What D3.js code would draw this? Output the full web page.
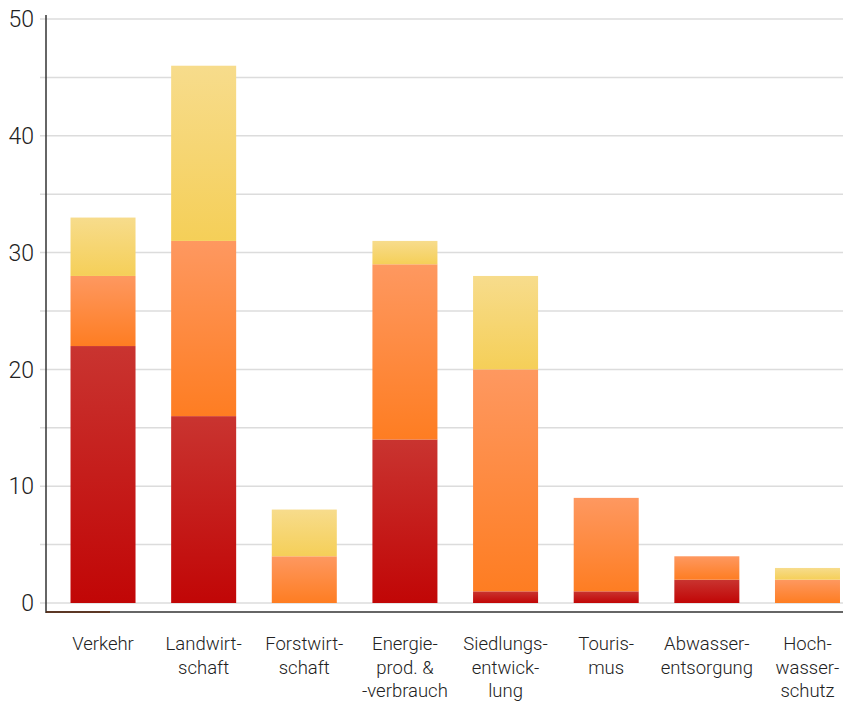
<!DOCTYPE html>
<html><head><meta charset="utf-8">
<script src="https://cdn.jsdelivr.net/npm/d3@7"></script>
<style>body{margin:0;background:#fff}svg{display:block}text{font-family:Roboto,"Liberation Sans",sans-serif;font-weight:300}</style>
</head><body>
<svg id="c" width="843" height="702"></svg>
<script>
const categories = ["Verkehr","Landwirtschaft","Forstwirtschaft","Energie","Siedlungsentwicklung","Tourismus","Abwasserentsorgung","Hochwasserschutz"];
const labelLines = [["Verkehr"],["Landwirt-","schaft"],["Forstwirt-","schaft"],["Energie-","prod. &","-verbrauch"],["Siedlungs-","entwick-","lung"],["Touris-","mus"],["Abwasser-","entsorgung"],["Hoch-","wasser-","schutz"]];
const redValues = [22,16,0,14,1,1,2,0];
const orangeValues = [6,15,4,15,19,8,2,2];
const yellowValues = [5,15,4,2,8,0,0,1];
const seriesKeys = ["red","orange","yellow"];
const yTicks = [0,10,20,30,40,50];
const gridTicks = [0,5,10,15,20,25,30,35,40,45,50];

const rows = categories.map((c,i)=>({cat:c, red:redValues[i], orange:orangeValues[i], yellow:yellowValues[i]}));
const stack = d3.stack().keys(seriesKeys)(rows);

const svg = d3.select("#c");
const y = d3.scaleLinear().domain([0,50]).range([603,19]);
const x = d3.scaleBand().domain(categories).range([52.7,857.8]).paddingInner(0.354).paddingOuter(0.177);

const defs = svg.append("defs");
const grads = {
  red:["#c93430","#c10606"],
  orange:["#fe9860","#fe7d22"],
  yellow:["#f7dc8c","#f5cf58"]
};
Object.entries(grads).forEach(([k,[a,b]])=>{
  const g = defs.append("linearGradient").attr("id","g-"+k).attr("x1",0).attr("y1",0).attr("x2",0).attr("y2",1);
  g.append("stop").attr("offset","0%").attr("stop-color",a);
  g.append("stop").attr("offset","100%").attr("stop-color",b);
});

// grid
svg.append("g").selectAll("line").data(gridTicks).join("line")
  .attr("x1",40).attr("x2",843).attr("y1",d=>y(d)).attr("y2",d=>y(d))
  .attr("stroke","#dcdcdc").attr("stroke-width",1.5);

// bars
svg.append("g").selectAll("g").data(stack).join("g")
  .attr("fill",d=>`url(#g-${d.key})`)
  .selectAll("rect").data(d=>d.filter(s=>s[1]-s[0]>0)).join("rect")
  .attr("x",d=>x(d.data.cat)).attr("width",x.bandwidth())
  .attr("y",d=>y(d[1])).attr("height",d=>y(d[0])-y(d[1]));

// axes lines
svg.append("line").attr("x1",46).attr("x2",46).attr("y1",15).attr("y2",613).attr("stroke","#333").attr("stroke-width",1.5);
svg.append("line").attr("x1",46).attr("x2",843).attr("y1",612).attr("y2",612).attr("stroke","#333").attr("stroke-width",1.5);
svg.append("line").attr("x1",46).attr("x2",110).attr("y1",612).attr("y2",612).attr("stroke","#5a2a10").attr("stroke-width",1.5);

// y tick labels
svg.append("g").selectAll("text").data(yTicks).join("text")
  .attr("x",34).attr("y",d=>y(d)).attr("dy","0.36em").attr("text-anchor","end")
  .attr("font-size",23).attr("fill","#222").text(d=>d);

// x labels
const xl = svg.append("g").selectAll("text").data(categories).join("text")
  .attr("text-anchor","middle").attr("font-size",18.5).attr("fill","#222")
  .attr("x",d=>x(d)+x.bandwidth()/2).attr("y",650);
xl.each(function(d,i){
  d3.select(this).selectAll("tspan").data(labelLines[i]).join("tspan")
    .attr("x",x(d)+x.bandwidth()/2).attr("dy",(t,j)=>j===0?0:23.5).text(t=>t);
});
</script>
</body></html>
